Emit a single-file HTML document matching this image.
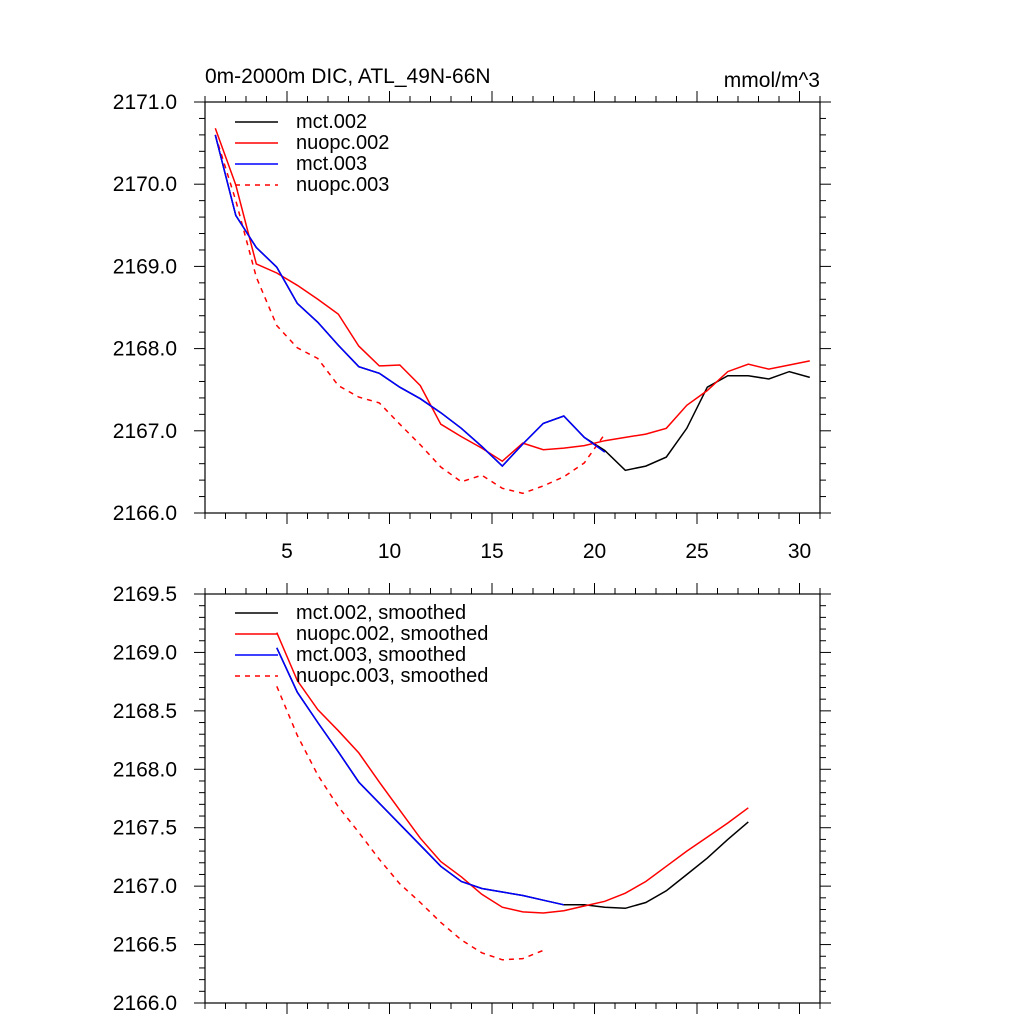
<!DOCTYPE html>
<html><head><meta charset="utf-8"><style>
body{margin:0;background:#fff}
svg text{font-family:"Liberation Sans",sans-serif;fill:#000}
</style></head><body>
<svg id="c" width="1024" height="1024" xmlns="http://www.w3.org/2000/svg"></svg>
<script>
const xsTop = [1.5,2.5,3.5,4.5,5.5,6.5,7.5,8.5,9.5,10.5,11.5,12.5,13.5,14.5,15.5,16.5,17.5,18.5,19.5,20.5,21.5,22.5,23.5,24.5,25.5,26.5,27.5,28.5,29.5,30.5];
const mct002 = [2170.6,2169.62,2169.23,2168.99,2168.55,2168.32,2168.04,2167.78,2167.7,2167.53,2167.39,2167.22,2167.03,2166.81,2166.57,2166.84,2167.09,2167.18,2166.92,2166.76,2166.52,2166.57,2166.68,2167.03,2167.53,2167.67,2167.67,2167.63,2167.72,2167.65];
const nuopc002 = [2170.68,2169.99,2169.03,2168.92,2168.77,2168.6,2168.42,2168.03,2167.79,2167.8,2167.55,2167.08,2166.93,2166.79,2166.63,2166.85,2166.77,2166.79,2166.82,2166.88,2166.92,2166.96,2167.03,2167.31,2167.49,2167.72,2167.81,2167.75,2167.8,2167.85];
const mct003 = [2170.6,2169.62,2169.23,2168.99,2168.55,2168.32,2168.04,2167.78,2167.7,2167.53,2167.39,2167.22,2167.03,2166.81,2166.57,2166.84,2167.09,2167.18,2166.92,2166.74];
const nuopc003 = [2170.6,2169.8,2168.87,2168.28,2168.01,2167.88,2167.55,2167.41,2167.34,2167.08,2166.83,2166.56,2166.38,2166.46,2166.3,2166.24,2166.33,2166.44,2166.61,2166.96];
const xsBot = [4.5,5.5,6.5,7.5,8.5,9.5,10.5,11.5,12.5,13.5,14.5,15.5,16.5,17.5,18.5,19.5,20.5,21.5,22.5,23.5,24.5,25.5,26.5,27.5];
const mct002s = [2169.04,2168.66,2168.4,2168.15,2167.89,2167.71,2167.53,2167.35,2167.17,2167.04,2166.98,2166.95,2166.92,2166.88,2166.84,2166.84,2166.82,2166.81,2166.86,2166.96,2167.1,2167.24,2167.4,2167.55];
const nuopc002s = [2169.17,2168.76,2168.51,2168.33,2168.14,2167.89,2167.65,2167.41,2167.21,2167.08,2166.93,2166.82,2166.78,2166.77,2166.79,2166.83,2166.87,2166.94,2167.04,2167.17,2167.3,2167.42,2167.54,2167.67];
const mct003s = [2169.04,2168.66,2168.4,2168.15,2167.89,2167.71,2167.53,2167.35,2167.17,2167.04,2166.98,2166.95,2166.92,2166.88,2166.84];
const nuopc003s = [2168.71,2168.29,2167.95,2167.68,2167.46,2167.23,2167.02,2166.86,2166.69,2166.54,2166.43,2166.37,2166.38,2166.45];
const xTicks = [5,10,15,20,25,30];
const yTicksTop = [2166,2167,2168,2169,2170,2171];
const yTicksBot = [2166,2166.5,2167,2167.5,2168,2168.5,2169,2169.5];

const svg = document.getElementById('c');
const NS = 'http://www.w3.org/2000/svg';
function mk(tag, attrs, parent){const e=document.createElementNS(NS,tag);for(const k in attrs)e.setAttribute(k,attrs[k]);(parent||svg).appendChild(e);return e;}
const L=205,R=820;
function sx(x){return L+(x-1)*(R-L)/30;}

function panel(name,top,bot,ymin,ymax,yTicks,minorStep,yfmt,showXLabels){
  const g=mk('g',{});
  
  
  const sy=v=>bot-(v-ymin)*(bot-top)/(ymax-ymin);
  const fr=mk('rect',{x:L,y:top,width:R-L,height:bot-top,fill:'none',stroke:'#000','stroke-width':1.2},g);
  
  
  for(let x=1;x<=31;x++){
    const major=x%5===0, len=major?11:6, px=sx(x);
    mk('line',{x1:px,x2:px,y1:bot,y2:bot+len,stroke:'#000','stroke-width':1},g);
    mk('line',{x1:px,x2:px,y1:top,y2:top-len,stroke:'#000','stroke-width':1},g);
  }
  if(showXLabels){xTicks.forEach(t=>{const tx=mk('text',{x:sx(t),y:bot+45,'font-size':21,'text-anchor':'middle'},g);tx.textContent=t;
    
    });}
  const n=Math.round((ymax-ymin)/minorStep);
  for(let i=0;i<=n;i++){
    const v=ymin+i*minorStep, py=sy(v);
    const major=yTicks.some(t=>Math.abs(t-v)<1e-6), len=major?11:6;
    mk('line',{x1:L,x2:L-len,y1:py,y2:py,stroke:'#000','stroke-width':1},g);
    mk('line',{x1:R,x2:R+len,y1:py,y2:py,stroke:'#000','stroke-width':1},g);
  }
  yTicks.forEach(t=>{const tx=mk('text',{x:177,y:sy(t)+7,'font-size':21,'text-anchor':'end'},g);tx.textContent=t.toFixed(1);
    
    });
  return sy;
}
function line(xs,ys,sy,color,dash,name){
  const d=ys.map((v,i)=>(i?'L':'M')+sx(xs[i]).toFixed(1)+','+sy(v).toFixed(1)).join('');
  const p=mk('path',{d:d,fill:'none',stroke:color,'stroke-width':1.5});
  if(dash)p.setAttribute('stroke-dasharray','5,5');
  
  
}
function legend(items,x0,y0,dy){
  items.forEach((it,i)=>{
    const y=y0+i*dy;
    const l=mk('line',{x1:x0,x2:x0+43,y1:y,y2:y,stroke:it[1],'stroke-width':1.5});
    if(it[2])l.setAttribute('stroke-dasharray','5,5');
    
    
    const t=mk('text',{x:x0+61,y:y+6,'font-size':20});
    t.textContent=it[0];
    
    
  });
}
const t1=mk('text',{x:205,y:83,'font-size':21});t1.textContent='0m-2000m DIC, ATL_49N-66N';


const t2=mk('text',{x:820,y:87,'font-size':21,'text-anchor':'end'});t2.textContent='mmol/m^3';



const syT=panel('top-panel',102,513,2166,2171,yTicksTop,0.2,null,true);
line(xsTop,mct002,syT,'#000',false,'series-mct002');
line(xsTop.slice(0,nuopc003.length),nuopc003,syT,'#f00',true,'series-nuopc003');
line(xsTop,nuopc002,syT,'#f00',false,'series-nuopc002');
line(xsTop.slice(0,mct003.length),mct003,syT,'#00f',false,'series-mct003');
legend([['mct.002','#000',false],['nuopc.002','#f00',false],['mct.003','#00f',false],['nuopc.003','#f00',true]],235,122,21);

const syB=panel('bottom-panel',594,1003,2166,2169.5,yTicksBot,0.1,null,false);
line(xsBot,mct002s,syB,'#000',false,'series-mct002-smoothed');
line(xsBot.slice(0,nuopc003s.length),nuopc003s,syB,'#f00',true,'series-nuopc003-smoothed');
line(xsBot,nuopc002s,syB,'#f00',false,'series-nuopc002-smoothed');
line(xsBot.slice(0,mct003s.length),mct003s,syB,'#00f',false,'series-mct003-smoothed');
legend([['mct.002, smoothed','#000',false],['nuopc.002, smoothed','#f00',false],['mct.003, smoothed','#00f',false],['nuopc.003, smoothed','#f00',true]],235,613,21);
</script>
</body></html>
